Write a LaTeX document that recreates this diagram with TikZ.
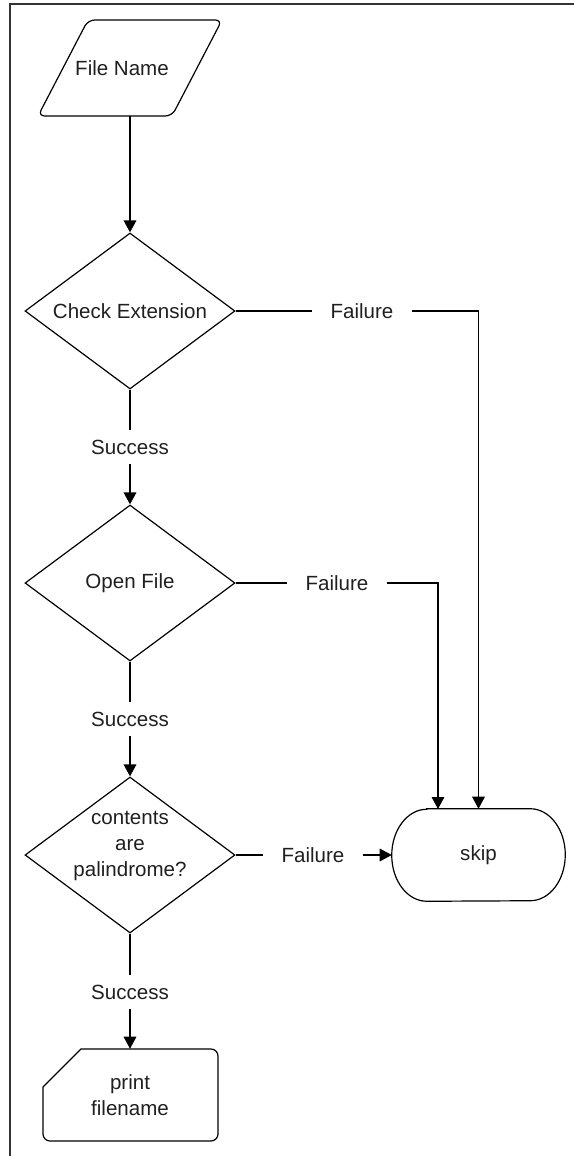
\documentclass[tikz,border=0pt]{standalone}
\usepackage{fontspec}
\setmainfont{Liberation Sans}
\usetikzlibrary{shapes.geometric,arrows.meta}
\begin{document}
\begin{tikzpicture}[x=0.75pt,y=0.75pt,
  every node/.style={font=\fontsize{15.4pt}{19.5pt}\selectfont, text=black!88},
  line/.style={line width=0.9pt, draw=black},
  arr/.style={line, -{Triangle[length=9pt,width=9.5pt]}},
  dec/.style={diamond, draw, line width=0.9pt, minimum width=157.5pt, minimum height=117pt, inner sep=0pt},
  lbl/.style={inner xsep=14pt, inner ysep=7pt},
  frame/.style={line width=1.3pt, draw=black!80}
]
\useasboundingbox (0,0) rectangle (574,-1156);
\draw[frame] (10,-1156) -- (10,-4) -- (574,-4);

% File Name (input)
\node[minimum width=97.5pt, minimum height=72pt, inner sep=0pt,
      label={[xshift=-6pt]center:File Name}] (fn) at (130,-68) {};
\draw[line, rounded corners=5pt] (130,-20) -- (222,-20) -- (172,-116) -- (38,-116) -- (88,-20) -- cycle;

% decisions
\node[dec, label={center:Check Extension}] (d1) at (130,-311) {};
\node[dec, label={center:Open File}] (d2) at (130,-583) {};
\node[dec, label={[align=center,yshift=7pt]center:contents\\are\\palindrome?}] (d3) at (130,-855) {};

% success labels
\node[lbl] (s1) at (130,-447) {Success};
\node[lbl] (s2) at (130,-719) {Success};
\node[lbl] (s3) at (130,-992) {Success};

% failure labels
\node[lbl] (f1) at (362,-311) {Failure};
\node[lbl] (f2) at (337,-583) {Failure};
\node[lbl] (f3) at (313,-855) {Failure};

% skip terminator
\node[minimum width=129.75pt, minimum height=69pt, inner sep=0pt] (skip) at (478.5,-855) {skip};
\draw[line] ([xshift=26.25pt]skip.north west) -- ([xshift=-26.25pt]skip.north east)
  arc[start angle=90,end angle=-90,x radius=35,y radius=46]
  -- ([xshift=26.25pt]skip.south west)
  arc[start angle=270,end angle=90,x radius=35,y radius=46] -- cycle;
\coordinate (skipin) at (438,-809);

% print filename (card)
\node[minimum width=131.25pt, minimum height=69pt, inner sep=0pt, align=center] (pr) at (130,-1095) {print\\filename};
\draw[line] (81,-1049) -- (211,-1049) arc[start angle=90,end angle=0,radius=7]
  -- (218,-1134) arc[start angle=0,end angle=-90,radius=7]
  -- (50,-1141) arc[start angle=270,end angle=180,radius=7]
  -- (43,-1087) -- cycle;

% connectors
\draw[arr] (fn.south) -- (d1.north);
\draw[line] (d1.south) -- (s1.north);
\draw[arr] (s1.south) -- (d2.north);
\draw[line] (d2.south) -- (s2.north);
\draw[arr] (s2.south) -- (d3.north);
\draw[line] (d3.south) -- (s3.north);
\draw[arr] (s3.south) -- (pr.north);

\draw[line] (d1.east) -- (f1.west);
\draw[arr] (f1.east) -| (skip.north);
\draw[line] (d2.east) -- (f2.west);
\draw[arr] (f2.east) -| (skipin);
\draw[line] (d3.east) -- (f3.west);
\draw[arr] (f3.east) -- (skip.west);
\end{tikzpicture}
\end{document}
